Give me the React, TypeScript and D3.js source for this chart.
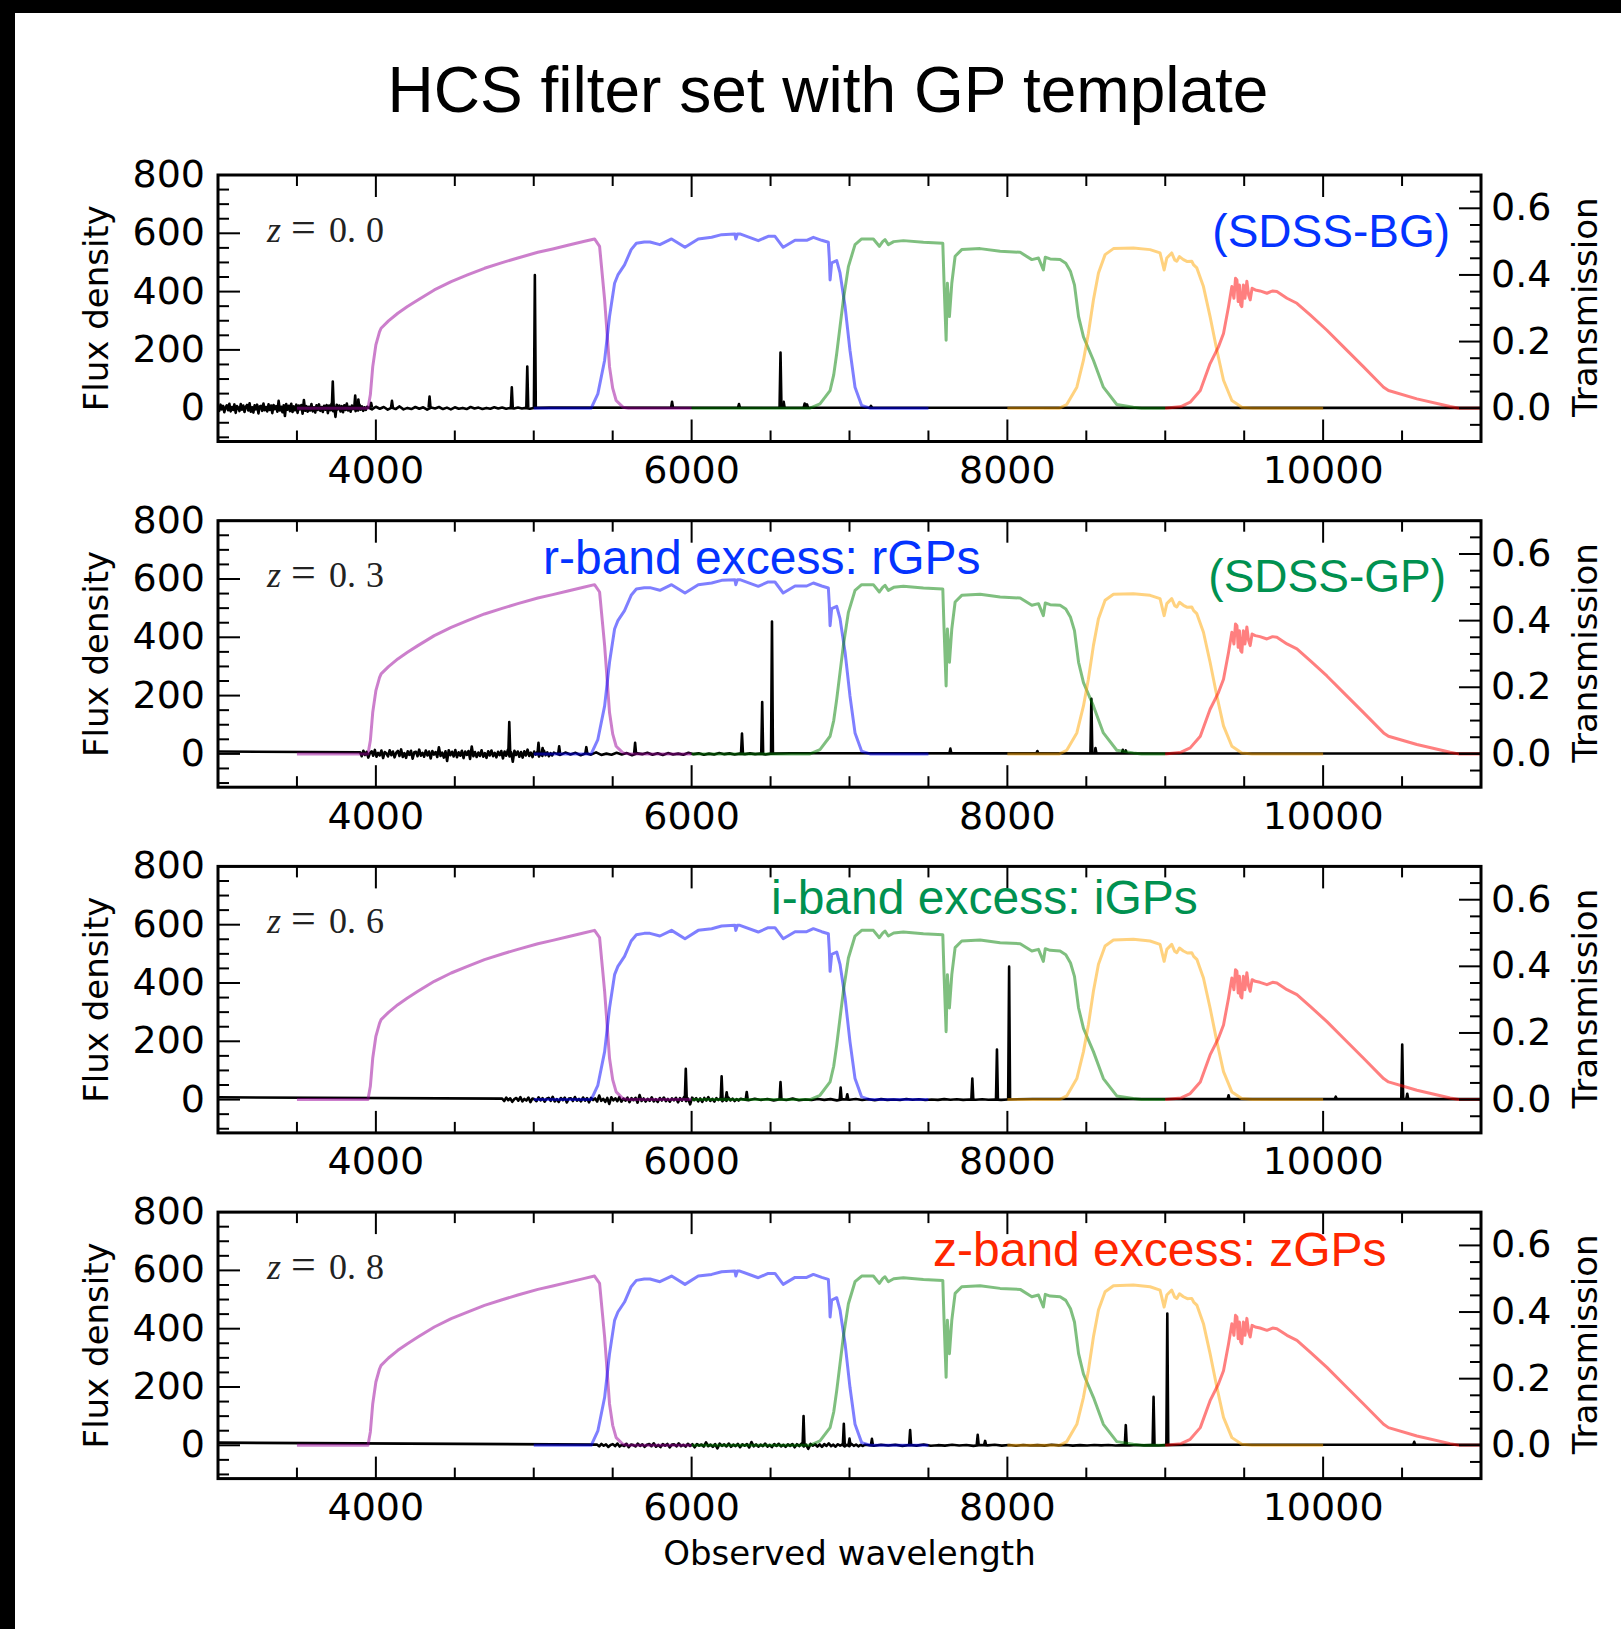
import React from 'react';
import * as d3 from 'd3';

// ---------------- DATA ----------------
const zValues = [0.0, 0.3, 0.6, 0.8];
const zLabels = ['0.0', '0.3', '0.6', '0.8'];

const xTickLabels = [4000, 6000, 8000, 10000];
const yLeftLabels = [0, 200, 400, 600, 800];
const yRightValues = [0.0, 0.2, 0.4, 0.6];
const yRightLabels = ['0.0', '0.2', '0.4', '0.6'];

// filter transmission curves [wavelength (A), transmission]
const filterU: [number, number][] = [
  [3500, 0], [3950, 0], [3965, 0.04], [3980, 0.124], [4000, 0.19], [4023, 0.229], [4033, 0.24], [4080, 0.262],
  [4139, 0.285], [4200, 0.305], [4266, 0.325], [4370, 0.355], [4477, 0.38], [4580, 0.4], [4688, 0.42],
  [4800, 0.437], [4899, 0.451], [5026, 0.468], [5120, 0.478], [5216, 0.489], [5322, 0.501], [5385, 0.508],
  [5417, 0.486], [5449, 0.325], [5480, 0.124], [5500, 0.06], [5522, 0.023], [5565, 0.003], [5600, 0], [6000, 0],
];
const filterG: [number, number][] = [
  [5000, 0], [5364, 0], [5406, 0.043], [5449, 0.144], [5480, 0.275], [5512, 0.375], [5533, 0.4], [5575, 0.43],
  [5617, 0.476], [5650, 0.495], [5700, 0.499], [5736, 0.499], [5799, 0.491], [5873, 0.508], [5958, 0.483],
  [6042, 0.508], [6127, 0.513], [6190, 0.521], [6274, 0.523], [6280, 0.508], [6290, 0.523], [6306, 0.523],
  [6422, 0.503], [6485, 0.516], [6528, 0.516], [6580, 0.483], [6655, 0.504], [6729, 0.504], [6771, 0.513],
  [6824, 0.504], [6866, 0.498], [6872, 0.45], [6877, 0.385], [6887, 0.436], [6919, 0.443], [6940, 0.406],
  [6972, 0.305], [7003, 0.174], [7035, 0.063], [7077, 0.008], [7130, 0], [7500, 0],
];
const filterR: [number, number][] = [
  [6000, 0], [6750, 0], [6813, 0.013], [6877, 0.053], [6900, 0.1], [6919, 0.164], [6961, 0.325], [6993, 0.425],
  [7035, 0.491], [7077, 0.508], [7151, 0.508], [7189, 0.486], [7210, 0.5], [7225, 0.506], [7246, 0.491],
  [7280, 0.5], [7341, 0.503], [7468, 0.498], [7591, 0.495], [7599, 0.375], [7612, 0.204], [7620, 0.375],
  [7633, 0.275], [7648, 0.375], [7669, 0.456], [7711, 0.476], [7827, 0.479], [7954, 0.471], [8081, 0.468],
  [8155, 0.446], [8197, 0.451], [8228, 0.415], [8240, 0.453], [8271, 0.448], [8334, 0.446], [8370, 0.435],
  [8400, 0.41], [8425, 0.37], [8451, 0.275], [8482, 0.214], [8545, 0.144], [8608, 0.063], [8693, 0.011],
  [8798, 0.003], [8850, 0], [9000, 0],
];
const filterI: [number, number][] = [
  [8000, 0], [8330, 0], [8376, 0.011], [8440, 0.063], [8482, 0.144], [8513, 0.224], [8545, 0.325], [8577, 0.406],
  [8619, 0.461], [8672, 0.479], [8798, 0.481], [8904, 0.476], [8967, 0.466], [8993, 0.415], [9010, 0.451],
  [9041, 0.466], [9060, 0.445], [9073, 0.441], [9090, 0.455], [9115, 0.446], [9140, 0.44], [9168, 0.441],
  [9180, 0.43], [9200, 0.421], [9242, 0.365], [9284, 0.275], [9327, 0.174], [9369, 0.084], [9422, 0.023],
  [9485, 0.003], [9550, 0], [10000, 0],
];
const filterZ: [number, number][] = [
  [9000, 0], [9100, 0.005], [9158, 0.018], [9222, 0.053], [9284, 0.134], [9337, 0.184], [9369, 0.224],
  [9401, 0.305], [9422, 0.365], [9435, 0.33], [9445, 0.39], [9454, 0.385], [9462, 0.32], [9470, 0.37],
  [9478, 0.31], [9485, 0.305], [9495, 0.37], [9505, 0.33], [9517, 0.381], [9528, 0.34], [9538, 0.325],
  [9550, 0.36], [9570, 0.355], [9600, 0.352], [9644, 0.345], [9680, 0.352], [9707, 0.35], [9771, 0.33],
  [9834, 0.315], [9918, 0.28], [10024, 0.234], [10129, 0.184], [10256, 0.124], [10383, 0.063], [10414, 0.053],
  [10594, 0.028], [10805, 0.005], [10858, 0], [11000, 0],
];
const filterCurves = [filterU, filterG, filterR, filterI, filterZ];

// GP template: noisy blue continuum (rest frame, 8 A grid from 3000 A)
const noiseA = [
  6, -9, 12, -4, 8, -14, 3, 10, -7, 15, -11, 4, -6, 13, -16, 7, 2, -10, 14, -5,
  9, -13, 5, 11, -8, 17, -12, 3, -15, 10, -4, 12, -18, 6, 8, -9, 16, -7, 4, -11,
  13, -6, 9, -17, 11, -3, 7, -12, 25, -8, 5, -14, 10, -27, 14, -5, 8, -10, 15, -13,
  6, -7, 12, -16, 9, -4, 11, -19, 28, -9, 7, -12, 5, -8, 14, -11, 3, -15, 10, -6,
  13, -9, 4, -13, 8, -5, 11, -17, 9, -7, 15, -10, 6, -30, 12, -4, 9, -11, 7, -14,
  10, -6, 16, -8, 5, -12, 9, -3, 7, -10, 4, -8, 12, -5, 6, -9, 3, -6, 5,
];
// rest frame, 25 A grid from 3950 A
const noiseB = [
  3, -4, 5, -2, 4, -5, 2, -3, 6, -4, 1, -3, 4, -2, 3, -5, 2, -1, 4, -3, 2, -4,
  3, -2, 1, -3, 4, -1, 2, -3, 1, -2, 3, -1, 2, -2, 1, -1, 2, -1, 1, -2, 1,
];
const continuumTail: [number, number][] = [[5100, 2], [7000, 1.5], [11000, 1]];
const leadIn: (number | null)[] = [null, 8, 8, 9];
const noiseScale = [1.0, 0.9, 0.55, 0.4];

// emission lines per panel [observed wavelength, flux density]
const lines0: [number, number][] = [
  [3727, 91], [3869, 43], [3889, 30], [3970, 18], [4102, 25], [4340, 40], [4861, 72], [4959, 143],
  [5007, 457], [5876, 22], [6300, 14], [6563, 191], [6583, 22], [6716, 16], [6731, 13], [7136, 8],
];
const lines1: [number, number][] = [
  [4845, 109], [5030, 38], [5056, 20], [5161, 26], [5333, 23], [5642, 38], [6319, 70], [6447, 178],
  [6509, 454], [7639, 18], [8190, 10], [8532, 189], [8558, 20], [8731, 14], [8750, 12],
];
const lines2: [number, number][] = [
  [5963, 106], [6190, 80], [6222, 25], [6349, 26], [6563, 60], [6944, 41], [6986, 18], [7778, 72],
  [7934, 172], [8011, 456], [9401, 15], [10080, 10], [10501, 189], [10533, 20],
];
const lines3: [number, number][] = [
  [6709, 100], [6964, 74], [7000, 23], [7142, 22], [7384, 52], [7812, 36], [7859, 15], [8750, 69],
  [8926, 166], [9013, 452], [10577, 12],
];
const emissionLines = [lines0, lines1, lines2, lines3];

const titleText = 'HCS filter set with GP template';
const xAxisLabel = 'Observed wavelength';
const yLeftLabel = 'Flux density';
const yRightLabel = 'Transmission';

// ---------------- STYLE / LAYOUT ----------------
const W = 1621;
const H = 1629;
const PLOT_L = 218;
const PLOT_R = 1481;
const PANEL_TOP0 = 175;
const PANEL_PITCH = 345.7;
const PANEL_H = 266.5;
const filterColors = ['#990099', '#0000ff', '#008000', '#ffa500', '#ff0000'];
const BLUE = '#0433ff';
const GREEN = '#009150';
const RED = '#ff2600';
const SANS = "'DejaVu Sans', sans-serif";
const HELV = "'Liberation Sans', Arial, Helvetica, sans-serif";
const SERIF = "'Liberation Serif', 'Times New Roman', serif";

const x = d3.scaleLinear().domain([3000, 11000]).range([PLOT_L, PLOT_R]);

function spectrumPoints(i: number): [number, number][] {
  const z = zValues[i];
  const s = noiseScale[i];
  const pts: [number, number][] = [];
  const li = leadIn[i];
  if (li !== null) pts.push([3000, li]);
  noiseA.forEach((v, k) => pts.push([(3000 + 8 * k) * (1 + z), v * s]));
  noiseB.forEach((v, k) => pts.push([(3950 + 25 * k) * (1 + z), v * s]));
  continuumTail.forEach(([l, f]) => pts.push([l * (1 + z), f]));
  return pts;
}

function Panel({ i }: { i: number }) {
  const top = PANEL_TOP0 + i * PANEL_PITCH;
  const bottom = top + PANEL_H;
  const yL = d3.scaleLinear().domain([-800 / 7, 800]).range([bottom, top]);
  const yR = d3.scaleLinear().domain([-0.1, 0.7]).range([bottom, top]);
  const specLine = d3.line<[number, number]>().x((d) => x(d[0])).y((d) => yL(d[1]));
  const filtLine = d3.line<[number, number]>().x((d) => x(d[0])).y((d) => yR(d[1]));
  const clipId = `clip${i}`;

  const xTicks = d3.range(0, 17).map((k) => 3000 + k * 500);
  const yLTicks = d3.range(-2, 17).map((k) => k * 50);
  const yRTicks = d3.range(-2, 15).map((k) => k);

  const zl = zLabels[i];
  const zBase = top + 66.7;

  return (
    <g>
      <defs>
        <clipPath id={clipId}>
          <rect x={PLOT_L} y={top} width={PLOT_R - PLOT_L} height={PANEL_H} />
        </clipPath>
      </defs>
      <g clipPath={`url(#${clipId})`}>
        <path d={specLine(spectrumPoints(i)) || ''} fill="none" stroke="#000" strokeWidth={2.6} strokeLinejoin="round" />
        {emissionLines[i].map(([l, h], k) => (
          <path
            key={k}
            d={specLine([[l - 6, 2], [l, h], [l + 6, 2]]) || ''}
            fill="#000"
            stroke="#000"
            strokeWidth={2.6}
            strokeLinejoin="round"
          />
        ))}
        {filterCurves.map((c, k) => (
          <path
            key={k}
            d={filtLine(c) || ''}
            fill="none"
            stroke={filterColors[k]}
            strokeOpacity={0.5}
            strokeWidth={3}
            strokeLinejoin="round"
          />
        ))}
      </g>
      {/* x ticks top & bottom */}
      {xTicks.map((v) => {
        const major = v % 2000 === 0;
        const len = major ? 22 : 11;
        return (
          <g key={v}>
            <line x1={x(v)} x2={x(v)} y1={bottom} y2={bottom - len} stroke="#000" strokeWidth={2} />
            <line x1={x(v)} x2={x(v)} y1={top} y2={top + len} stroke="#000" strokeWidth={2} />
          </g>
        );
      })}
      {/* left ticks */}
      {yLTicks.map((v) => {
        const major = v >= 0 && v % 200 === 0;
        const len = major ? 22 : 11;
        return <line key={v} x1={PLOT_L} x2={PLOT_L + len} y1={yL(v)} y2={yL(v)} stroke="#000" strokeWidth={2} />;
      })}
      {/* right ticks */}
      {yRTicks.map((k) => {
        const major = k >= 0 && k % 4 === 0;
        const len = major ? 22 : 11;
        const v = k * 0.05;
        return <line key={k} x1={PLOT_R} x2={PLOT_R - len} y1={yR(v)} y2={yR(v)} stroke="#000" strokeWidth={2} />;
      })}
      <rect x={PLOT_L} y={top} width={PLOT_R - PLOT_L} height={PANEL_H} fill="none" stroke="#000" strokeWidth={3} />
      {/* tick labels */}
      {xTickLabels.map((v) => (
        <text key={v} x={x(v)} y={bottom + 41.5} textAnchor="middle" fontFamily={SANS} fontSize={38} fill="#000">
          {v}
        </text>
      ))}
      {yLeftLabels.map((v) => (
        <text key={v} x={205} y={yL(v) + 12} textAnchor="end" fontFamily={SANS} fontSize={38} fill="#000">
          {v}
        </text>
      ))}
      {yRightValues.map((v, k) => (
        <text key={k} x={1491} y={yR(v) + 12} textAnchor="start" fontFamily={SANS} fontSize={38} fill="#000">
          {yRightLabels[k]}
        </text>
      ))}
      {/* axis labels */}
      <text
        transform={`translate(108,${(top + bottom) / 2}) rotate(-90)`}
        textAnchor="middle"
        fontFamily={SANS}
        fontSize={34}
        fill="#000"
      >
        {yLeftLabel}
      </text>
      <text
        transform={`translate(1597,${(top + bottom) / 2 - 1}) rotate(-90)`}
        textAnchor="middle"
        fontFamily={SANS}
        fontSize={34}
        fill="#000"
      >
        {yRightLabel}
      </text>
      {/* redshift label */}
      <g fontFamily={SERIF} fontSize={36} fill="#222">
        <text x={267} y={zBase} fontStyle="italic">z</text>
        <text x={291} y={zBase} fontSize={44}>=</text>
        <text x={329} y={zBase}>{zl.slice(0, 2)}</text>
        <text x={366} y={zBase}>{zl.slice(2)}</text>
      </g>
    </g>
  );
}

export default function App() {
  const t = (k: number) => PANEL_TOP0 + k * PANEL_PITCH;
  return (
    <div style={{ position: 'absolute', left: 0, top: 0, width: W, height: H, background: '#fff' }}>
      <svg width={W} height={H} viewBox={`0 0 ${W} ${H}`} style={{ display: 'block' }}>
        <rect x={0} y={0} width={W} height={H} fill="#fff" />
        <rect x={0} y={0} width={W} height={13} fill="#000" />
        <rect x={0} y={0} width={15} height={H} fill="#000" />
        <text x={828} y={112} textAnchor="middle" fontFamily={HELV} fontSize={64} fill="#000">
          {titleText}
        </text>
        {zValues.map((_, i) => (
          <Panel key={i} i={i} />
        ))}
        {/* annotations */}
        <text x={1450} y={t(0) + 72} textAnchor="end" fontFamily={HELV} fontSize={46} fill={BLUE}>
          (SDSS-BG)
        </text>
        <text x={543} y={t(1) + 53} textAnchor="start" fontFamily={HELV} fontSize={48} fill={BLUE}>
          r-band excess: rGPs
        </text>
        <text x={1446} y={t(1) + 71.5} textAnchor="end" fontFamily={HELV} fontSize={46} fill={GREEN}>
          (SDSS-GP)
        </text>
        <text x={771} y={t(2) + 47.6} textAnchor="start" fontFamily={HELV} fontSize={48} fill={GREEN}>
          i-band excess: iGPs
        </text>
        <text x={933} y={t(3) + 54} textAnchor="start" fontFamily={HELV} fontSize={48} fill={RED}>
          z-band excess: zGPs
        </text>
        <text x={(PLOT_L + PLOT_R) / 2} y={1565} textAnchor="middle" fontFamily={SANS} fontSize={34} fill="#000">
          {xAxisLabel}
        </text>
      </svg>
    </div>
  );
}
